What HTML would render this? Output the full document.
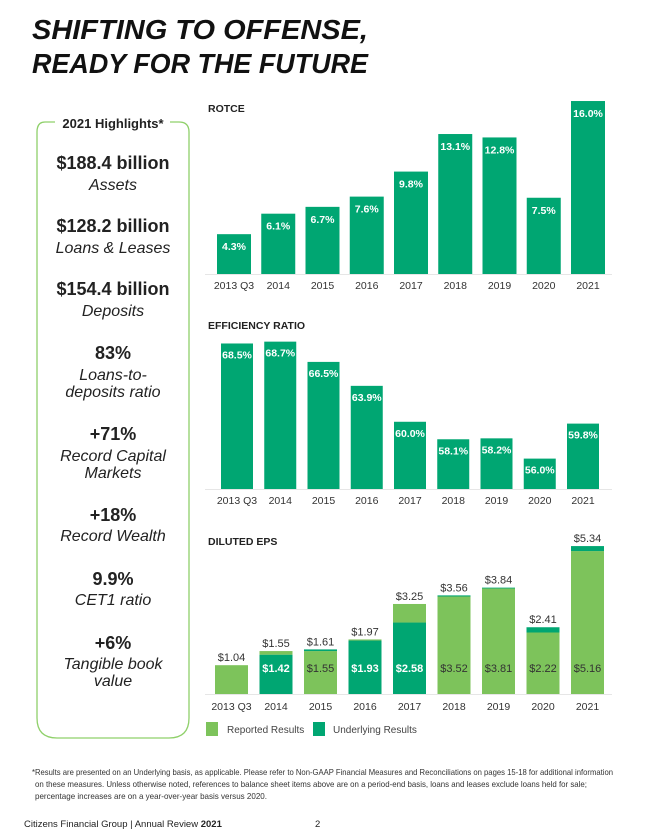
<!DOCTYPE html>
<html><head><meta charset="utf-8"><style>
html,body{margin:0;padding:0;background:#fff}
svg{display:block;font-family:"Liberation Sans",sans-serif}
</style></head><body>
<svg id="page" width="645" height="840" viewBox="0 0 645 840" xmlns="http://www.w3.org/2000/svg">
<g font-weight="bold" font-style="italic" font-size="28" fill="#111">
<text x="32" y="39" textLength="336" lengthAdjust="spacingAndGlyphs">SHIFTING TO OFFENSE,</text>
<text x="32" y="73" textLength="336" lengthAdjust="spacingAndGlyphs">READY FOR THE FUTURE</text>
</g>
<g>
<path d="M55 122 H45 Q37 122 37 132 V718 Q37 738 57 738 H169 Q189 738 189 718 V132 Q189 122 179 122 H170" fill="none" stroke="#8fd06a" stroke-width="1.3"/>
<text x="113" y="128" text-anchor="middle" font-size="13" font-weight="bold" fill="#222">2021 Highlights*</text>
<g text-anchor="middle" fill="#222">
<g font-size="18" font-weight="bold">
<text x="113" y="169">$188.4 billion</text>
<text x="113" y="232">$128.2 billion</text>
<text x="113" y="295">$154.4 billion</text>
<text x="113" y="359">83%</text>
<text x="113" y="440">+71%</text>
<text x="113" y="521">+18%</text>
<text x="113" y="585">9.9%</text>
<text x="113" y="649">+6%</text>
</g>
<g font-size="16" font-style="italic">
<text x="113" y="190">Assets</text>
<text x="113" y="253">Loans &amp; Leases</text>
<text x="113" y="316">Deposits</text>
<text x="113" y="380">Loans-to-</text>
<text x="113" y="397">deposits ratio</text>
<text x="113" y="461">Record Capital</text>
<text x="113" y="478">Markets</text>
<text x="113" y="541">Record Wealth</text>
<text x="113" y="605">CET1 ratio</text>
<text x="113" y="669">Tangible book</text>
<text x="113" y="686">value</text>
</g></g></g>
<g id="rotce"></g>
<g id="eff"></g>
<g id="eps"></g>
<g font-size="10" fill="#444">
<rect x="206" y="722" width="12" height="14" fill="#7dc35b"/>
<text x="227" y="733">Reported Results</text>
<rect x="313" y="722" width="12" height="14" fill="#00a672"/>
<text x="333" y="733">Underlying Results</text>
</g>
<g font-size="8.3" fill="#333">
<text x="32" y="775" textLength="581" lengthAdjust="spacingAndGlyphs">*Results are presented on an Underlying basis, as applicable. Please refer to Non-GAAP Financial Measures and Reconciliations on pages 15-18 for additional information</text>
<text x="35" y="787" textLength="552" lengthAdjust="spacingAndGlyphs">on these measures. Unless otherwise noted, references to balance sheet items above are on a period-end basis, loans and leases exclude loans held for sale;</text>
<text x="35" y="799" textLength="232" lengthAdjust="spacingAndGlyphs">percentage increases are on a year-over-year basis versus 2020.</text>
</g>
<g font-size="9.5" fill="#222">
<text x="24" y="827">Citizens Financial Group | Annual Review <tspan font-weight="bold">2021</tspan></text>
<text x="315" y="827">2</text>
</g>
</svg>
<script>
const categories = ["2013 Q3","2014","2015","2016","2017","2018","2019","2020","2021"];
const rotceValues = [4.3,6.1,6.7,7.6,9.8,13.1,12.8,7.5,16.0];
const efficiencyValues = [68.5,68.7,66.5,63.9,60.0,58.1,58.2,56.0,59.8];
const epsReported = [1.04,1.42,1.55,1.93,2.58,3.52,3.81,2.22,5.16];
const epsUnderlying = [1.04,1.55,1.61,1.97,3.25,3.56,3.84,2.41,5.34];
const epsLowerDark = [false,true,false,true,true,false,false,false,false];

const NS = "http://www.w3.org/2000/svg";
const DARK = "#00a672", LIGHT = "#7dc35b";
function mk(parent, tag, attrs, txt){
  const e = document.createElementNS(NS, tag);
  for (const k in attrs) e.setAttribute(k, attrs[k]);
  if (txt !== undefined) e.textContent = txt;
  parent.appendChild(e);
  return e;
}
function simpleChart(gid, title, titleY, vals, x0, pitch, bw, base, vmin, scale, labelY, lblOff, fmt){
  const g = document.getElementById(gid);
  const t = mk(g, "text", {x: 208, y: titleY, "font-size": 10.5, "font-weight": "bold", fill: "#222"}, title);
  
  
  const ln = mk(g, "line", {x1: 205, x2: 612, y1: base + 0.5, y2: base + 0.5, stroke: "#e6e6e6"});
  
  
  vals.forEach((v, i) => {
    const x = x0 + i * pitch;
    const y = base - (v - vmin) * scale;
    const r = mk(g, "rect", {x: x, y: y, width: bw, height: base - y, fill: DARK});
    
    
    const l = mk(g, "text", {x: x + bw / 2, y: y + lblOff, "text-anchor": "middle", "font-size": 10.5, "font-weight": "bold", fill: "#fff"}, fmt(v));
    
    
    const c = mk(g, "text", {x: x + bw / 2, y: labelY, "text-anchor": "middle", "font-size": 10.5, fill: "#333"}, categories[i]);
    
    
  });
}
simpleChart("rotce", "ROTCE", 112, rotceValues, 217, 44.25, 34, 274, 0.8, 11.38, 289, 16, v => v.toFixed(1) + "%");
simpleChart("eff", "EFFICIENCY RATIO", 329, efficiencyValues, 221, 43.25, 32, 489, 52.7, 9.21, 504, 15, v => v.toFixed(1) + "%");

(function(){
  const g = document.getElementById("eps");
  const base = 694, x0 = 215, pitch = 44.5, bw = 33, scale = 27.7;
  const yv = v => base - v * scale;
  const t = mk(g, "text", {x: 208, y: 545, "font-size": 10.5, "font-weight": "bold", fill: "#222"}, "DILUTED EPS");
  
  
  const ln = mk(g, "line", {x1: 205, x2: 612, y1: base + 0.5, y2: base + 0.5, stroke: "#e6e6e6"});
  
  
  categories.forEach((cat, i) => {
    const x = x0 + i * pitch;
    const yr = yv(epsReported[i]), yu = yv(epsUnderlying[i]);
    const lowerDark = epsLowerDark[i];
    const lo = mk(g, "rect", {x: x, y: yr, width: bw, height: base - yr, fill: lowerDark ? DARK : LIGHT});
    
    
    if (epsUnderlying[i] > epsReported[i]) {
      const up = mk(g, "rect", {x: x, y: yu, width: bw, height: yr - yu, fill: lowerDark ? LIGHT : DARK});
      
      
    }
    const top = mk(g, "text", {x: x + bw / 2, y: yu - 4, "text-anchor": "middle", "font-size": 11, fill: "#333"}, "$" + epsUnderlying[i].toFixed(2));
    
    
    if (i > 0) {
      const inner = mk(g, "text", {x: x + bw / 2, y: 672, "text-anchor": "middle", "font-size": 11, "font-weight": lowerDark ? "bold" : "normal", fill: lowerDark ? "#fff" : "#333"}, "$" + epsReported[i].toFixed(2));
      
      
    }
    const c = mk(g, "text", {x: x + bw / 2, y: 710, "text-anchor": "middle", "font-size": 10.5, fill: "#333"}, cat);
    
    
  });
})();
</script>
</body></html>
